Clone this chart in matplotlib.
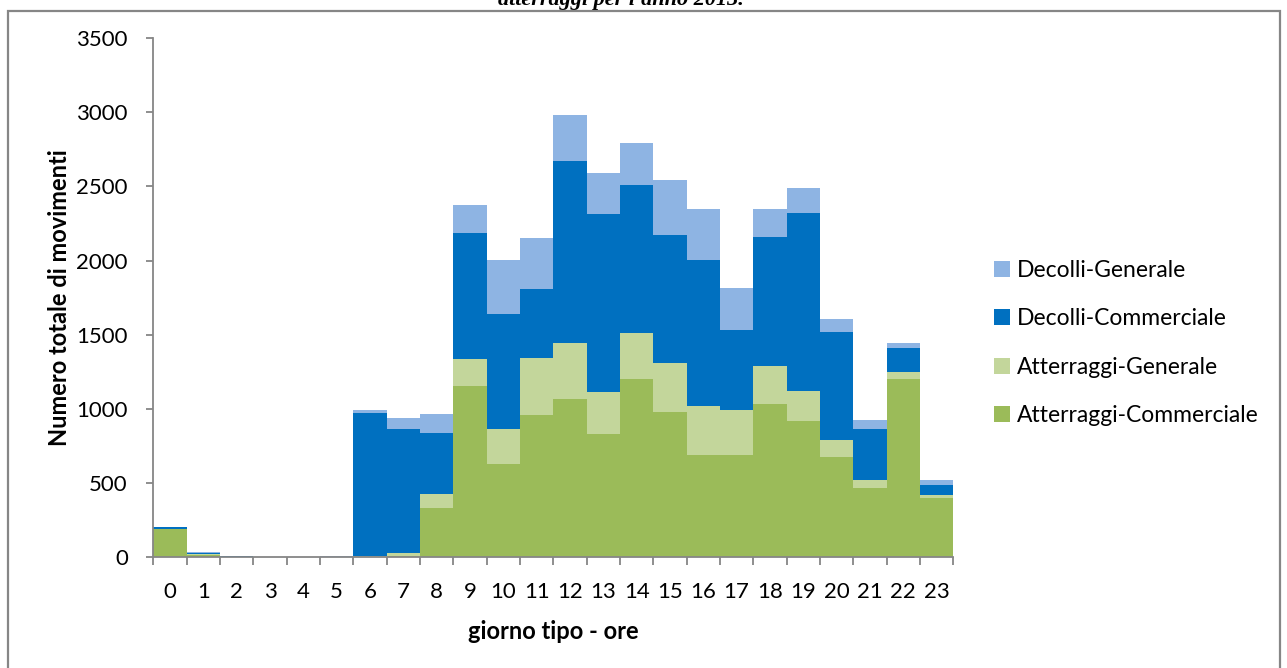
import matplotlib
matplotlib.use("Agg")
import matplotlib.pyplot as plt
import numpy as np
from matplotlib.patches import Rectangle, Patch

plt.rcParams['font.family'] = ['Lato', 'DejaVu Sans']

hours = [str(h) for h in range(24)]

# movements per hour of the typical day (stacked from the bottom up)
atterraggi_commerciale = [190, 18, 2, 1, 1, 1, 5, 11, 332, 1157, 631, 961,
                          1069, 829, 1202, 981, 692, 690, 1031, 919, 676, 469, 1202, 402]
atterraggi_generale = [3, 2, 1, 0, 0, 0, 2, 16, 97, 179, 232, 380,
                       377, 283, 308, 326, 328, 301, 256, 200, 113, 54, 45, 20]
decolli_commerciale = [10, 10, 4, 1, 1, 2, 968, 836, 411, 848, 779, 465,
                       1225, 1204, 999, 863, 984, 543, 874, 1202, 732, 344, 166, 65]
decolli_generale = [2, 3, 4, 1, 0, 7, 18, 76, 128, 188, 359, 348,
                    308, 274, 281, 371, 344, 281, 187, 166, 85, 56, 29, 34]

series = [
    ("Atterraggi-Commerciale", atterraggi_commerciale, "#9BBB59"),
    ("Atterraggi-Generale", atterraggi_generale, "#C3D69B"),
    ("Decolli-Commerciale", decolli_commerciale, "#0070C0"),
    ("Decolli-Generale", decolli_generale, "#8EB4E3"),
]

W, H = 1287, 668
fig = plt.figure(figsize=(W / 100, H / 100), dpi=100)
ax = fig.add_axes([153.3 / W, 1 - 557.3 / H, 800 / W, 519.3 / H])

x = np.arange(len(hours))
bottom = np.zeros(len(hours))
handles = []
for name, vals, color in series:
    vals = np.array(vals, dtype=float)
    ax.bar(x, vals, width=1.0, bottom=bottom, color=color, edgecolor='none',
           linewidth=0, label=name)
    bottom += vals
    handles.append(Patch(facecolor=color, edgecolor='none', label=name))

ax.set_xlim(-0.5, 23.5)
ax.set_ylim(0, 3500)
ax.set_yticks(np.arange(0, 3501, 500))
ax.set_xticks(x)
ax.set_xticklabels(hours)
ax.set_xticks(np.arange(-0.5, 24, 1), minor=True)

axis_grey = "#868686"
for side in ("top", "right"):
    ax.spines[side].set_visible(False)
for side in ("left", "bottom"):
    ax.spines[side].set_color(axis_grey)
    ax.spines[side].set_linewidth(1.3)

ax.tick_params(axis='y', direction='out', length=4.8, width=1.3, color=axis_grey,
               labelsize=16, pad=13.5, labelcolor='black')
ax.tick_params(axis='x', which='major', length=0, labelsize=16, pad=17.5,
               labelcolor='black')
ax.tick_params(axis='x', which='minor', direction='out', length=5.5, width=1.3,
               color=axis_grey)

ax.set_xlabel("giorno tipo - ore", fontsize=17, fontweight='bold', labelpad=13)
ax.set_ylabel("Numero totale di movimenti", fontsize=17, fontweight='bold',
              labelpad=4)

leg = fig.legend(handles=handles[::-1], loc='center left',
                 bbox_to_anchor=(983 / W, 1 - 343 / H), frameon=False,
                 fontsize=16.5, handlelength=0.68, handleheight=0.68,
                 handletextpad=0.3, labelspacing=1.2, borderpad=0)

# chart frame
fig.patches.append(Rectangle((7.5 / W, -0.05), (1280 - 7.5) / W, 1.05 - 11 / H,
                             transform=fig.transFigure, fill=False,
                             edgecolor=axis_grey, linewidth=1.6, zorder=5))

fig.text(621 / W, 1 - 5 / H, "atterraggi per l'anno 2013.", ha='center',
         va='baseline', fontsize=16, fontweight='bold', fontstyle='italic',
         family='Liberation Serif')

fig.savefig("out.png", dpi=100)
